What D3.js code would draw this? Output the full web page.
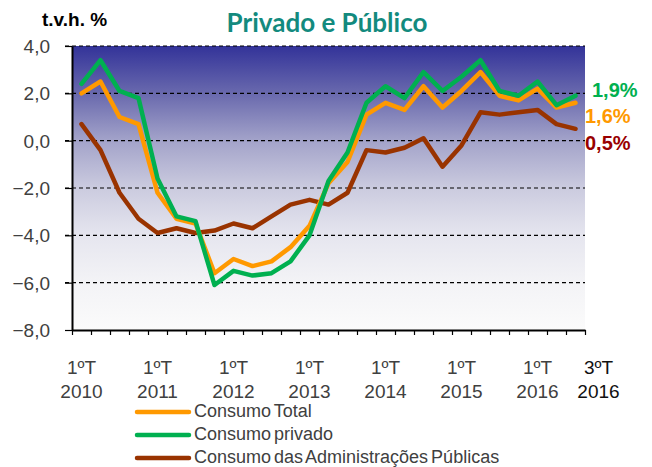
<!DOCTYPE html>
<html>
<head>
<meta charset="utf-8">
<script src="https://cdn.jsdelivr.net/npm/d3@7"></script>
<style>
  body { margin: 0; background: #fff; }
  svg { display: block; font-family: "Liberation Sans", Arial, sans-serif; }
</style>
</head>
<body>
<div id="chart"></div>
<script>
// quarters 1ºT 2010 .. 3ºT 2016
const quarters = d3.range(27).map((i) => `${(i % 4) + 1}ºT ${2010 + Math.floor(i / 4)}`);
const tickQuarters = ["1ºT 2010", "1ºT 2011", "1ºT 2012", "1ºT 2013", "1ºT 2014", "1ºT 2015", "1ºT 2016"];
const yTicks = [4, 2, 0, -2, -4, -6, -8];

const consumoTotal = [2.0, 2.5, 1.0, 0.7, -2.2, -3.3, -3.5, -5.6, -5.0, -5.3, -5.1, -4.5, -3.6, -1.8, -0.9, 1.1, 1.6, 1.3, 2.3, 1.4, 2.1, 2.9, 1.9, 1.7, 2.2, 1.4, 1.6];
const consumoPrivado = [2.4, 3.4, 2.1, 1.8, -1.6, -3.2, -3.4, -6.1, -5.5, -5.7, -5.6, -5.1, -4.0, -1.7, -0.5, 1.6, 2.3, 1.8, 2.9, 2.1, 2.7, 3.4, 2.1, 1.9, 2.5, 1.5, 1.9];
const consumoPublico = [0.7, -0.4, -2.2, -3.3, -3.9, -3.7, -3.9, -3.8, -3.5, -3.7, -3.2, -2.7, -2.5, -2.7, -2.2, -0.4, -0.5, -0.3, 0.1, -1.1, -0.2, 1.2, 1.1, 1.2, 1.3, 0.7, 0.5];

const series = [
  { name: "Consumo Total", values: consumoTotal, color: "#ff9900", label: "1,6%", dy: 20 },
  { name: "Consumo privado", values: consumoPrivado, color: "#00b050", label: "1,9%", dy: 1 },
  { name: "Consumo das Administrações Públicas", values: consumoPublico, color: "#993300", label: "0,5%", dy: 21, labelColor: "#990000" },
];

const w = 652, h = 467;
const m = { left: 72, right: 585, top: 46, bottom: 330 };

const svg = d3.select("#chart").append("svg").attr("width", w).attr("height", h);

const x = d3.scaleBand().domain(quarters).range([m.left, m.right]);
const xEdge = d3.scaleLinear().domain([0, quarters.length]).range([m.left, m.right]);
const y = d3.scaleLinear().domain([-8, 4]).range([m.bottom, m.top]);
const cx = (i) => x(quarters[i]) + x.bandwidth() / 2;

// plot background gradient
const grad = svg.append("defs").append("linearGradient")
  .attr("id", "bg").attr("x1", 0).attr("y1", 0).attr("x2", 0).attr("y2", 1);
[[0, "#333399"], [0.17, "#6a6aae"], [0.33, "#a2a2c9"], [0.5, "#cbcbdf"], [0.67, "#e6e6ef"], [0.83, "#f3f3f6"], [1, "#fbfbfb"]]
  .forEach(([o, c]) => grad.append("stop").attr("offset", o).attr("stop-color", c));

svg.append("rect")
  .attr("x", m.left).attr("y", m.top)
  .attr("width", m.right - m.left).attr("height", m.bottom - m.top)
  .attr("fill", "url(#bg)");

// dashed gridlines
svg.append("g").selectAll("line")
  .data(yTicks.filter((d) => d > -8))
  .join("line")
  .attr("x1", m.left - 7).attr("x2", m.right)
  .attr("y1", (d) => y(d)).attr("y2", (d) => y(d))
  .attr("stroke", "#000").attr("stroke-width", 1.2)
  .attr("stroke-dasharray", "4,3");

// y axis
const yAxis = svg.append("g")
  .attr("transform", `translate(${m.left},0)`)
  .call(d3.axisLeft(y).tickValues(yTicks).tickSize(7).tickSizeOuter(0)
    .tickFormat((d) => d3.format(".1f")(d).replace(".", ",")));
yAxis.select(".domain").attr("stroke", "#000").attr("stroke-width", 2);
yAxis.selectAll(".tick line").attr("stroke", "#000").attr("stroke-width", 1.2);
yAxis.selectAll("text")
  .attr("x", -22).attr("dy", "0.35em")
  .attr("fill", "#404040").attr("font-size", 19)
  .attr("font-family", "Liberation Sans, Arial, sans-serif");

// x axis (ticks on quarter boundaries)
const xAxis = svg.append("g")
  .attr("transform", `translate(0,${m.bottom})`)
  .call(d3.axisBottom(xEdge).tickValues(d3.range(quarters.length + 1)).tickSize(5).tickSizeOuter(0).tickFormat(""));
xAxis.select(".domain").attr("stroke", "#000").attr("stroke-width", 2);
xAxis.selectAll(".tick line").attr("stroke", "#000").attr("stroke-width", 1.2);

// x labels
const xl = svg.append("g").attr("font-size", 19).attr("text-anchor", "middle").attr("fill", "#404040");
tickQuarters.forEach((q) => {
  const [t, yr] = q.split(" ");
  const t1 = xl.append("text").attr("x", x(q) + x.bandwidth() / 2);
  t1.append("tspan").attr("y", 374).text(t);
  t1.append("tspan").attr("x", x(q) + x.bandwidth() / 2).attr("y", 398).text(yr);
});
const lastQ = quarters[quarters.length - 1];
const lastT = xl.append("text").attr("x", cx(quarters.length - 1) + 23).attr("fill", "#111");
lastT.append("tspan").attr("y", 374).text(lastQ.split(" ")[0]);
lastT.append("tspan").attr("x", cx(quarters.length - 1) + 23).attr("y", 398).text(lastQ.split(" ")[1]);

// lines
const line = d3.line().x((d, i) => cx(i)).y((d) => y(d));
[series[2], series[0], series[1]].forEach((s) => {
  svg.append("path")
    .datum(s.values)
    .attr("d", line)
    .attr("fill", "none")
    .attr("stroke", s.color)
    .attr("stroke-width", 4.5)
    .attr("stroke-linejoin", "round")
    .attr("stroke-linecap", "round");
});

// end labels
series.forEach((s, k) => {
  const last = s.values[s.values.length - 1];
  svg.append("text")
    .attr("x", k === 1 ? 592 : 585)
    .attr("y", y(last) + s.dy)
    .attr("fill", s.labelColor || s.color)
    .attr("font-weight", "bold")
    .attr("font-size", 20)
    .text(s.label);
});

// legend
const legend = svg.append("g");
series.forEach((s, i) => {
  const ly = 412 + i * 23;
  legend.append("line")
    .attr("x1", 137).attr("x2", 189).attr("y1", ly).attr("y2", ly)
    .attr("stroke", s.color).attr("stroke-width", 4.5).attr("stroke-linecap", "round");
  legend.append("text")
    .attr("x", 194).attr("y", ly + 5)
    .attr("fill", "#404040").attr("font-size", 18)
    .attr("word-spacing", -2)
    .text(s.name);
});

// titles
svg.append("text")
  .attr("x", 327).attr("y", 32)
  .attr("text-anchor", "middle")
  .attr("font-family", "Lato, 'Open Sans', sans-serif")
  .attr("font-weight", "bold")
  .attr("font-size", 26)
  .attr("fill", "#138a7e")
  .text("Privado e Público");

svg.append("text")
  .attr("x", 42).attr("y", 26)
  .attr("font-weight", "bold")
  .attr("font-size", 19)
  .attr("fill", "#000")
  .text("t.v.h. %");
</script>
</body>
</html>
